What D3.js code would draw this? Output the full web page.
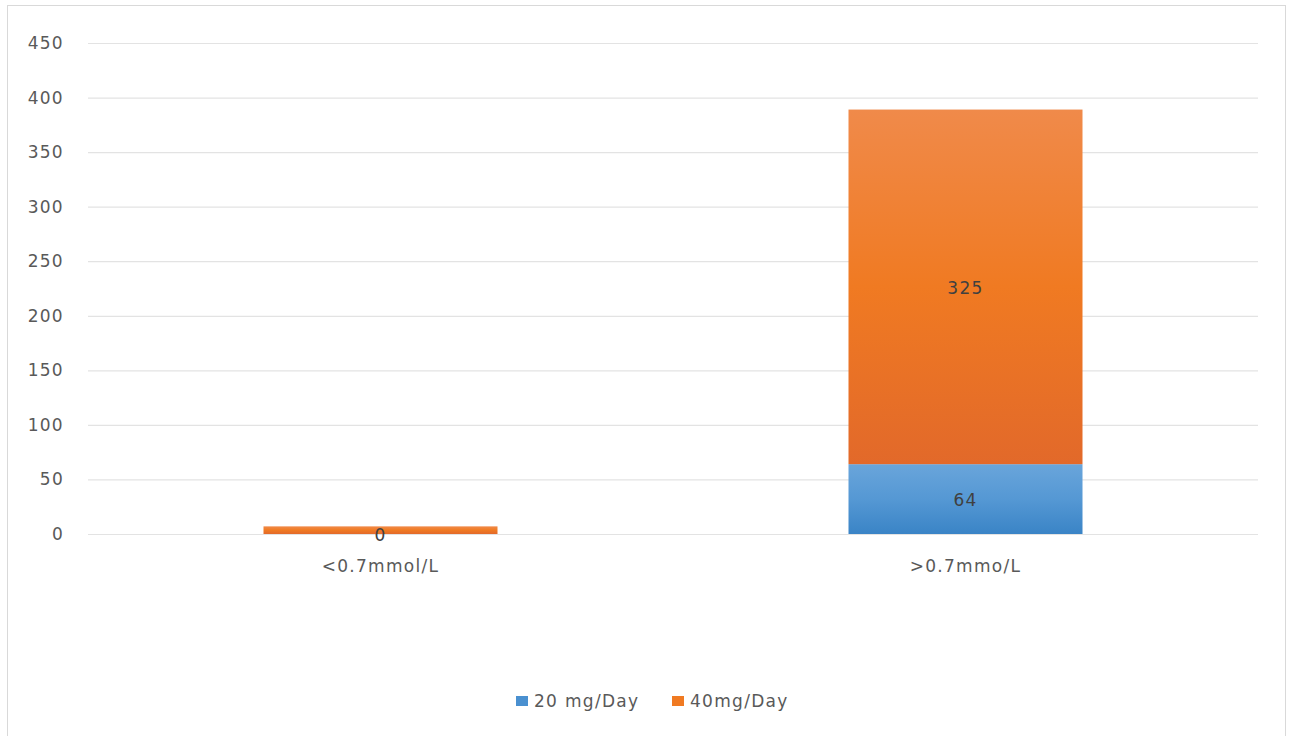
<!DOCTYPE html>
<html>
<head>
<meta charset="utf-8">
<script src="https://cdn.jsdelivr.net/npm/d3@7"></script>
<style>
  body { margin: 0; background: #fff; }
  text { font-family: "DejaVu Sans", "Open Sans", sans-serif; letter-spacing: 1.3px; }
</style>
</head>
<body>
<svg width="1291" height="736"></svg>
<script>
const categories = ["<0.7mmol/L", ">0.7mmo/L"];
const seriesNames = ["20 mg/Day", "40mg/Day"];
const dose20 = [0, 64];
const dose40 = [7, 325];
const yTicks = [0, 50, 100, 150, 200, 250, 300, 350, 400, 450];

const svg = d3.select("svg");
const margin = { left: 88, right: 33, top: 43, bottom: 202 };
const width = 1291 - margin.left - margin.right;
const height = 736 - margin.top - margin.bottom;

// chart frame
svg.append("rect")
  .attr("x", 7.5).attr("y", 5.5)
  .attr("width", 1278).attr("height", 740)
  .attr("fill", "none")
  .attr("stroke", "#d9d9d9");

// --- GRADIENTS ---
const defs = svg.append("defs");
function grad(id, stops) {
  const g = defs.append("linearGradient").attr("id", id)
    .attr("x1", 0).attr("y1", 0).attr("x2", 0).attr("y2", 1);
  stops.forEach(s => g.append("stop").attr("offset", s[0]).attr("stop-color", s[1]));
}
grad("gBlue", [[0, "#69a5db"], [0.5, "#5598d4"], [1, "#3a84c6"]]);
grad("gOrange", [[0, "#f08a4a"], [0.5, "#f07a22"], [1, "#e2692a"]]);
const fills = ["url(#gBlue)", "url(#gOrange)"];
const legendColors = ["#4a90d0", "#f07a22"];

const g = svg.append("g").attr("transform", `translate(${margin.left},${margin.top})`);

const x = d3.scaleBand().domain(categories).range([0, width]).paddingInner(0.6).paddingOuter(0.3);
const y = d3.scaleLinear().domain([0, 450]).range([height, 0]);

// --- GRID + Y AXIS ---
const yAxis = g.append("g")
  .call(d3.axisLeft(y).tickValues(yTicks).tickSize(-width).tickPadding(24));
yAxis.select(".domain").remove();
yAxis.selectAll("line").attr("stroke", "#e3e3e3").attr("stroke-width", 1.2);
yAxis.selectAll("text").attr("fill", "#595959").style("font-size", "17px");

// --- STACKED BARS ---
const rows = categories.map((c, i) => ({ cat: c, s0: dose20[i], s1: dose40[i] }));
const stack = d3.stack().keys(["s0", "s1"])(rows);

const barLayer = g.append("g");
const labelLayer = g.append("g");

stack.forEach((layer, k) => {
  barLayer.append("g").selectAll("rect")
    .data(layer)
    .join("rect")
    .attr("x", d => x(d.data.cat))
    .attr("width", x.bandwidth())
    .attr("y", d => y(d[1]))
    .attr("height", d => y(d[0]) - y(d[1]))
    .attr("fill", fills[k]);

  // labels: skip segments too thin to hold text (Excel hides them)
  labelLayer.append("g").selectAll("text")
    .data(layer.filter(d => d[1] - d[0] === 0 || y(d[0]) - y(d[1]) > 20))
    .join("text")
    .attr("x", d => x(d.data.cat) + x.bandwidth() / 2)
    .attr("y", d => (y(d[0]) + y(d[1])) / 2 + 1)
    .attr("dy", "0.35em")
    .attr("text-anchor", "middle")
    .attr("fill", "#404040")
    .style("font-size", "17px")
    .text(d => d[1] - d[0]);
});

// --- X AXIS LABELS ---
g.append("g")
  .selectAll("text")
  .data(categories)
  .join("text")
  .attr("x", d => x(d) + x.bandwidth() / 2)
  .attr("y", height + 38)
  .attr("text-anchor", "middle")
  .attr("fill", "#595959")
  .style("font-size", "17px")
  .text(d => d);

// --- LEGEND ---
const legend = svg.append("g").attr("transform", "translate(516,701)");
const offsets = [0, 156];
seriesNames.forEach((name, i) => {
  const item = legend.append("g").attr("transform", `translate(${offsets[i]},0)`);
  item.append("rect").attr("x", 0).attr("y", -5).attr("width", 12).attr("height", 10)
    .attr("fill", legendColors[i]);
  item.append("text").attr("x", 18).attr("y", 0).attr("dy", "0.35em")
    .attr("fill", "#595959").style("font-size", "17px").text(name);
});
</script>
</body>
</html>
